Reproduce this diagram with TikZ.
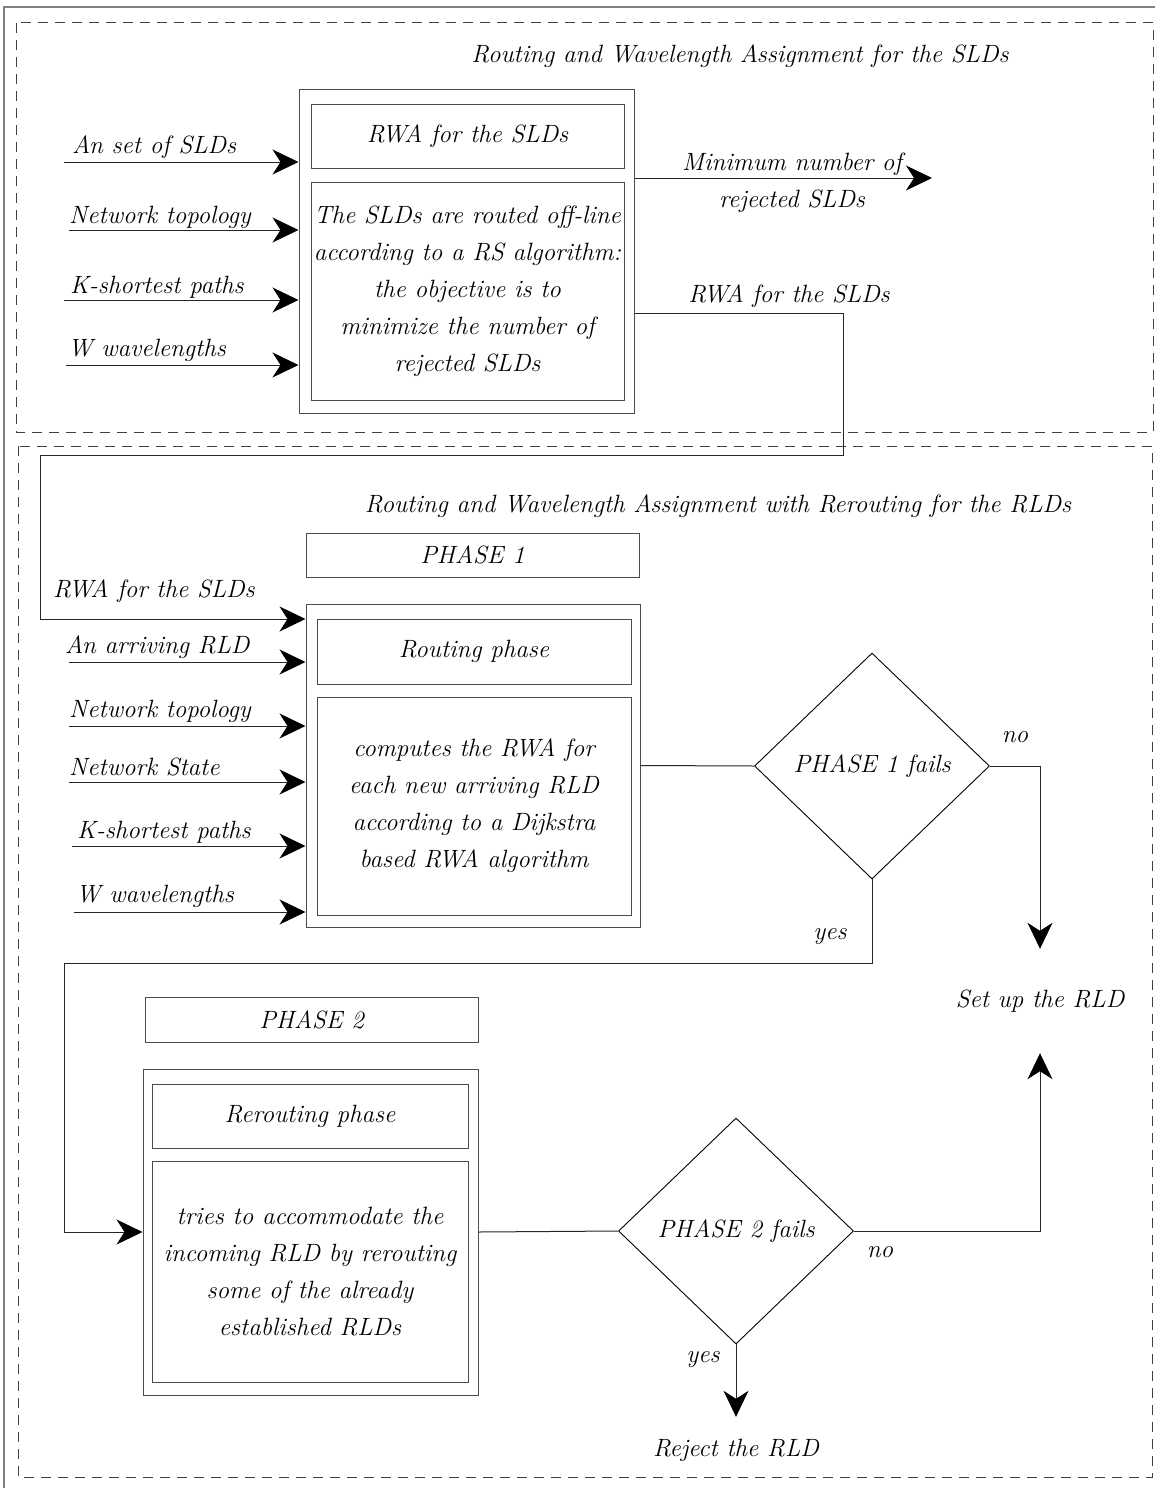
\documentclass[tikz,border=0pt]{standalone}
\usetikzlibrary{shapes.geometric,arrows.meta,positioning}
\begin{document}
\begin{tikzpicture}[x=1pt, y=-1pt, >={Stealth[length=26pt, width=25pt, inset=8pt, color=black]},
  font=\fontsize{25}{37}\selectfont\itshape,
  frame/.style={draw=black!70, line width=1pt, inner sep=0pt, align=center},
  zone/.style={draw=black!75, line width=1pt, dash pattern=on 10pt off 7pt},
  wire/.style={draw=black!85, line width=1pt},
  lbl/.style={inner sep=0pt, anchor=base west},
  txt/.style={inner sep=0pt, anchor=base},
  test/.style={diamond, draw=black, line width=.9pt, inner sep=0pt, minimum width=235pt, minimum height=226pt}]
\useasboundingbox (0,0) rectangle (1155,1488);
\draw[black!50, line width=1.5pt] (4,1500) |- (1170,7);
\draw[zone] (16,23) rectangle (1153,432);
\draw[zone] (18,446) rectangle (1152,1477);

% off-line part
\node[txt] (t1) at (740,63) {Routing and Wavelength Assignment for the SLDs};
\node[frame, minimum width=335pt, minimum height=324pt] (sld) at (466.5,251) {};
\node[frame, minimum width=313pt, minimum height=64pt] (sldhead) at (467.5,136) {RWA for the SLDs};
\node[frame, minimum width=313pt, minimum height=218pt] (sldbody) at (467.5,291) {The SLDs are routed off-line\\according to a RS algorithm:\\the objective is to\\minimize the number of\\rejected SLDs};

\coordinate (a1) at (64,162); \coordinate (a2) at (69,230);
\coordinate (a3) at (64,300); \coordinate (a4) at (66,365);
\draw[wire,->] (a1) -- (a1 -| sld.west);
\draw[wire,->] (a2) -- (a2 -| sld.west);
\draw[wire,->] (a3) -- (a3 -| sld.west);
\draw[wire,->] (a4) -- (a4 -| sld.west);
\node[lbl] (la1) at (72,153) {An set of SLDs};
\node[lbl] (la2) at (69,223) {Network topology};
\node[lbl] (la3) at (70,293) {K-shortest paths};
\node[lbl] (la4) at (68,356) {W wavelengths};

\coordinate (out) at (932,178);
\draw[wire,->] (out -| sld.east) -- (out);
\node[txt] (lout1) at (792,170) {Minimum number of};
\node[txt] (lout2) at (792,207) {rejected SLDs};

% on-line part
\node[txt] (t2) at (718,512) {Routing and Wavelength Assignment with Rerouting for the RLDs};
\node[frame, minimum width=333pt, minimum height=44pt] (ph1) at (472.5,555) {PHASE 1};
\node[frame, minimum width=334pt, minimum height=323pt] (p1) at (473,765.5) {};
\node[frame, minimum width=314pt, minimum height=65pt] (p1head) at (474,651.5) {Routing phase};
\node[frame, minimum width=314pt, minimum height=218pt] (p1body) at (474,806) {computes the RWA for\\each new arriving RLD\\according to a Dijkstra\\based RWA algorithm};

\coordinate (fb1) at (843,313); \coordinate (fb2) at (40,455); \coordinate (b0) at (40,619);
\draw[wire,->] (fb1 -| sld.east) -- (fb1) |- (fb2) -- (b0) -- (b0 -| p1.west);
\node[txt] (lfb) at (789,302) {RWA for the SLDs};
\node[lbl] (lb0) at (53,597) {RWA for the SLDs};

\coordinate (b1) at (69,662); \coordinate (b2) at (69,726); \coordinate (b3) at (69,782);
\coordinate (b4) at (72,846); \coordinate (b5) at (74,912);
\draw[wire,->] (b1) -- (b1 -| p1.west);
\draw[wire,->] (b2) -- (b2 -| p1.west);
\draw[wire,->] (b3) -- (b3 -| p1.west);
\draw[wire,->] (b4) -- (b4 -| p1.west);
\draw[wire,->] (b5) -- (b5 -| p1.west);
\node[lbl] (lb1) at (65,653) {An arriving RLD};
\node[lbl] (lb2) at (69,717) {Network topology};
\node[lbl] (lb3) at (69,775) {Network State};
\node[lbl] (lb4) at (77,838) {K-shortest paths};
\node[lbl] (lb5) at (76,902) {W wavelengths};

\node[test] (d1) at (872,766) {PHASE 1 fails};
\node[inner sep=0pt, minimum height=104pt] (setup) at (1040,1001) {Set up the RLD};
\draw[wire] (p1.east) -- (d1.west);
\draw[wire,->] (d1.east) -| (setup.north);
\node (no1) at (1015,737) {no};

\node[frame, minimum width=333pt, minimum height=45pt] (ph2) at (311.5,1019.5) {PHASE 2};
\node[frame, minimum width=335pt, minimum height=326pt] (p2) at (310.5,1232) {};
\node[frame, minimum width=316pt, minimum height=64pt] (p2head) at (310,1116) {Rerouting phase};
\node[frame, minimum width=316pt, minimum height=221pt] (p2body) at (310,1271.5) {tries to accommodate the\\incoming RLD by rerouting\\some of the already\\established RLDs};

\coordinate (y1) at (64,963);
\draw[wire,->] (d1.south) |- (y1) |- (p2.west);
\node (yes1) at (830,937) {yes};

\node[test] (d2) at (736,1231) {PHASE 2 fails};
\node[inner sep=0pt, minimum height=66pt] (reject) at (736,1450) {Reject the RLD};
\draw[wire] (p2.east) -- (d2.west);
\draw[wire,->] (d2.east) -| (setup.south);
\draw[wire,->] (d2.south) -- (reject.north);
\node (no2) at (880,1252) {no};
\node (yes2) at (703,1360) {yes};
\end{tikzpicture}
\end{document}
